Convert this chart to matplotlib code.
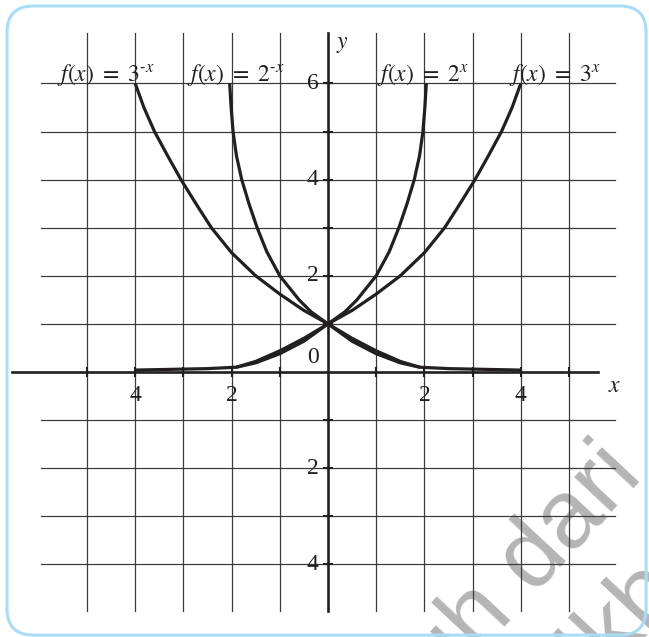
import matplotlib
matplotlib.use("Agg")
import matplotlib.pyplot as plt
from matplotlib.patches import FancyBboxPatch

plt.rcParams["font.family"] = ["Liberation Serif", "DejaVu Serif"]
plt.rcParams["mathtext.fontset"] = "stix"

# ---- curves (one grid square = 1 unit) ------------------------------------
x_3negx = [-4.0, -3.82, -3.60, -3.33, -3.05, -2.74, -2.42, -2.0, -1.5, -1.0, -0.5, 0.0,
           0.5, 1.0, 1.5, 1.9, 2.5, 3.0, 4.0]
y_3negx = [6.0, 5.5, 5.0, 4.5, 4.0, 3.5, 3.0, 2.48, 2.0, 1.62, 1.28, 1.0,
           0.7, 0.44, 0.22, 0.1, 0.07, 0.06, 0.04]

x_2negx = [-2.04, -2.01, -1.97, -1.90, -1.79, -1.64, -1.47, -1.27, -1.0, -0.6, -0.35, 0.0,
           0.5, 1.0, 1.5, 1.9]
y_2negx = [6.0, 5.5, 5.0, 4.5, 4.0, 3.5, 3.0, 2.5, 2.0, 1.5, 1.25, 1.0,
           0.64, 0.38, 0.19, 0.1]

x_2x = [-1.9, -1.5, -1.0, -0.5, 0.0, 0.35, 0.6, 1.0, 1.27, 1.47, 1.64, 1.79, 1.90, 1.97, 2.01, 2.04]
y_2x = [0.1, 0.19, 0.38, 0.64, 1.0, 1.25, 1.5, 2.0, 2.5, 3.0, 3.5, 4.0, 4.5, 5.0, 5.5, 6.0]

x_3x = [-4.0, -3.0, -2.5, -1.9, -1.5, -1.0, -0.5, 0.0, 0.5, 1.0, 1.5, 2.0, 2.42, 2.74, 3.05,
        3.33, 3.60, 3.82, 4.0]
y_3x = [0.04, 0.06, 0.07, 0.1, 0.22, 0.44, 0.7, 1.0, 1.28, 1.62, 2.0, 2.48, 3.0, 3.5, 4.0,
        4.5, 5.0, 5.5, 6.0]

curve_labels = ["$f(x)\\ =\\ 3^{\u2010x}$", "$f(x)\\ =\\ 2^{\u2010x}$",
                "$f(x)\\ =\\ 2^{x}$", "$f(x)\\ =\\ 3^{x}$"]
label_x = [-5.62, -2.93, 1.02, 3.76]

xtick_pos = [-4, -2, 2, 4]
xtick_txt = ["4", "2", "2", "4"]
ytick_pos = [6, 4, 2, -2, -4]
ytick_txt = ["6", "4", "2", "2", "4"]

INK = "#231f20"
GRID = "#3c3c3c"

fig = plt.figure(figsize=(6.49, 6.37), dpi=100)
ax = fig.add_axes([0, 0, 1, 1])
ax.set_xlim(-328 / 48.2, (649 - 328) / 48.2)
ax.set_ylim((372 - 637) / 48.1, 372 / 48.1)
ax.axis("off")

# rounded light-blue frame
ax.add_patch(FancyBboxPatch((-6.66, -5.47), 13.26, 13.08,
             boxstyle="round,pad=0,rounding_size=0.55",
             fc="none", ec="#a9dcf5", lw=2.2, zorder=1))

# watermark
wm = dict(rotation=47, rotation_mode="anchor", fontsize=70, color="#b5b5b5",
          family="Liberation Sans", va="baseline", zorder=0.5)
ax.text(6.56, -2.18, "Diunduh dari", ha="right", **wm)
ax.text(5.91, -6.10, "http://bse.kemdi", ha="right", **wm)
ax.text(5.91, -6.10, "kbud.go.id", ha="left", **wm)

# grid
for gx in range(-5, 6):
    if gx != 0:
        ax.plot([gx, gx], [-4.97, 7.05], color=GRID, lw=0.9, zorder=2)
for gy in range(-4, 7):
    if gy != 0:
        ax.plot([-5.95, 5.95], [gy, gy], color=GRID, lw=0.9, zorder=2)

# axes
ax.plot([-6.55, 5.6], [0, 0], color=INK, lw=1.9, zorder=3)
ax.plot([0, 0], [-4.97, 7.05], color=INK, lw=1.9, zorder=3)
ax.plot([t for t in range(-5, 6) if t != 0], [0] * 10, ls="none", marker="|",
        ms=7, mew=1.5, color=INK, zorder=3)
ax.plot([0] * 10, [t for t in range(-4, 7) if t != 0], ls="none", marker="_",
        ms=7, mew=1.5, color=INK, zorder=3)

# curves
for xs, ys in [(x_3negx, y_3negx), (x_2negx, y_2negx), (x_2x, y_2x), (x_3x, y_3x)]:
    ax.plot(xs, ys, color=INK, lw=2.3, solid_joinstyle="round",
            solid_capstyle="butt", zorder=4)

# labels
for lx, lab in zip(label_x, curve_labels):
    ax.text(lx, 6.06, lab, fontsize=17, color=INK, ha="left", va="baseline", zorder=5)
for px, t in zip(xtick_pos, xtick_txt):
    ax.text(px, -0.48, t, fontsize=17, color=INK, ha="center", va="center", zorder=5)
for py, t in zip(ytick_pos, ytick_txt):
    ax.text(-0.19, py, t, fontsize=17, color=INK, ha="right", va="center", zorder=5)
ax.text(-0.19, 0.3, "0", fontsize=17, color=INK, ha="right", va="center", zorder=5)
ax.text(5.95, -0.31, "$x$", fontsize=17, color=INK, ha="center", va="center", zorder=5)
ax.text(0.29, 6.8, "$y$", fontsize=17, color=INK, ha="center", va="center", zorder=5)

fig.savefig("out.png", dpi=100)
